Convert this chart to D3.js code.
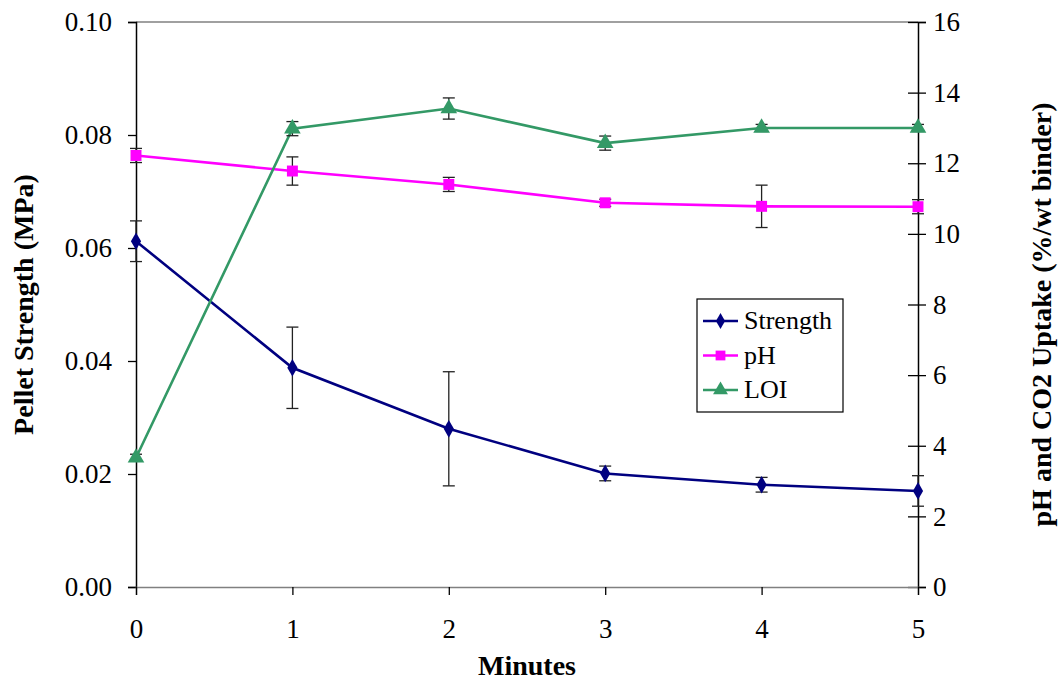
<!DOCTYPE html>
<html><head><meta charset="utf-8">
<script src="https://cdn.jsdelivr.net/npm/d3@7"></script>
<style>
body{margin:0;background:#fff;}
svg{display:block;}
svg text{font-family:"Liberation Serif","Times New Roman",serif;}
</style></head>
<body><svg id="c" width="1058" height="684"></svg>
<script>
const minutes = [0, 1, 2, 3, 4, 5];
const strength = [0.0612, 0.0388, 0.0280, 0.0201, 0.0181, 0.0170];
const strengthErr = [0.0036, 0.0072, 0.0101, 0.0013, 0.0013, 0.0027];
const pH = [12.22, 11.78, 11.40, 10.88, 10.78, 10.77];
const pHErr = [0.2, 0.4, 0.2, 0.1, 0.6, 0.2];
const LOI = [3.66, 12.98, 13.55, 12.57, 13.0, 13.0];
const LOIErr = [0.1, 0.2, 0.3, 0.2, 0.1, 0.1];
const leftTicks = [0, 0.02, 0.04, 0.06, 0.08, 0.10];
const rightTicks = [0, 2, 4, 6, 8, 10, 12, 14, 16];
const seriesNames = ["Strength", "pH", "LOI"];
const colors = ["#000080", "#FF00FF", "#339966"];

const svg = d3.select("#c");
const L = 136, R = 918, T = 22, B = 587;
const FS = 27;
const x = d3.scaleLinear().domain([0, 5]).range([L, R]);
const yL = d3.scaleLinear().domain([0, 0.10]).range([B, T]);
const yR = d3.scaleLinear().domain([0, 16]).range([B, T]);

svg.append("line").attr("x1", L).attr("x2", R).attr("y1", T).attr("y2", T).attr("stroke", "#808080").attr("stroke-width", 1.5);

function styleText(g) {
  g.attr("font-family", null);
  g.selectAll("text").attr("font-size", FS).attr("fill", "#000");
}

const ax = svg.append("g").attr("transform", `translate(${L},0)`)
  .call(d3.axisLeft(yL).tickValues(leftTicks).tickFormat(d3.format(".2f")).tickSize(8).tickPadding(16));
ax.select(".domain").attr("stroke", "#000").attr("stroke-width", 1.5);
ax.selectAll(".tick line").attr("stroke", "#000").attr("stroke-width", 1.3);
styleText(ax);

const ar = svg.append("g").attr("transform", `translate(${R},0)`)
  .call(d3.axisRight(yR).tickValues(rightTicks).tickSize(8).tickPadding(7));
ar.select(".domain").attr("stroke", "#000").attr("stroke-width", 1.5);
ar.selectAll(".tick line").attr("x1", -10).attr("stroke", "#000").attr("stroke-width", 1.3);
styleText(ar);

const ab = svg.append("g").attr("transform", `translate(0,${B})`)
  .call(d3.axisBottom(x).tickValues(minutes).tickFormat(d3.format("d")).tickSize(8).tickPadding(24));
ab.select(".domain").attr("stroke", "#808080").attr("stroke-width", 1.5);
ab.selectAll(".tick line").attr("stroke", "#000").attr("stroke-width", 1.3);
styleText(ab);

svg.append("text").attr("transform", `translate(33,${(T + B) / 2}) rotate(-90)`)
  .attr("text-anchor", "middle").attr("font-size", 28).attr("font-weight", "bold").text("Pellet Strength (MPa)");
svg.append("text").attr("transform", `translate(1051,${(T + B) / 2 + 10}) rotate(-90)`)
  .attr("text-anchor", "middle").attr("font-size", 28).attr("font-weight", "bold").text("pH and CO2 Uptake (%/wt binder)");
svg.append("text").attr("x", (L + R) / 2).attr("y", 675)
  .attr("text-anchor", "middle").attr("font-size", 28).attr("font-weight", "bold").text("Minutes");

const series = [
  {vals: strength, err: strengthErr, y: yL, sym: d3.symbolDiamond, size: 90},
  {vals: pH, err: pHErr, y: yR, sym: d3.symbolSquare, size: 120},
  {vals: LOI, err: LOIErr, y: yR, sym: d3.symbolTriangle, size: 120}
];

series.forEach((s, i) => {
  const line = d3.line().x((d, j) => x(minutes[j])).y(d => s.y(d));
  svg.append("path").datum(s.vals).attr("d", line).attr("fill", "none")
    .attr("stroke", colors[i]).attr("stroke-width", 2.6);
});

series.forEach((s, i) => {
  const g = svg.append("g");
  s.vals.forEach((v, j) => {
    const cx = x(minutes[j]);
    const y1 = s.y(v + s.err[j]), y2 = s.y(v - s.err[j]);
    g.append("line").attr("x1", cx).attr("x2", cx).attr("y1", y1).attr("y2", y2).attr("stroke", "#222").attr("stroke-width", 1.3);
    [y1, y2].forEach(yy => g.append("line").attr("x1", cx - 6).attr("x2", cx + 6).attr("y1", yy).attr("y2", yy).attr("stroke", "#222").attr("stroke-width", 1.3));
  });
  svg.append("g").selectAll("path").data(s.vals).join("path")
    .attr("transform", (d, j) => `translate(${x(minutes[j])},${s.y(d)})`)
    .attr("d", d3.symbol().type(s.sym).size(s.size)).attr("fill", colors[i]);
});

const lg = svg.append("g").attr("transform", "translate(697,299)");
lg.append("rect").attr("width", 146).attr("height", 113).attr("fill", "#fff").attr("stroke", "#000").attr("stroke-width", 1.2);
seriesNames.forEach((n, i) => {
  const yy = 22 + i * 34.5;
  lg.append("line").attr("x1", 6).attr("x2", 41).attr("y1", yy).attr("y2", yy).attr("stroke", colors[i]).attr("stroke-width", 2.6);
  lg.append("path").attr("transform", `translate(23.5,${yy})`).attr("d", d3.symbol().type(series[i].sym).size(series[i].size * 0.8)).attr("fill", colors[i]);
  lg.append("text").attr("x", 47).attr("y", yy + 8).attr("font-size", 26).text(n);
});
</script></body></html>
